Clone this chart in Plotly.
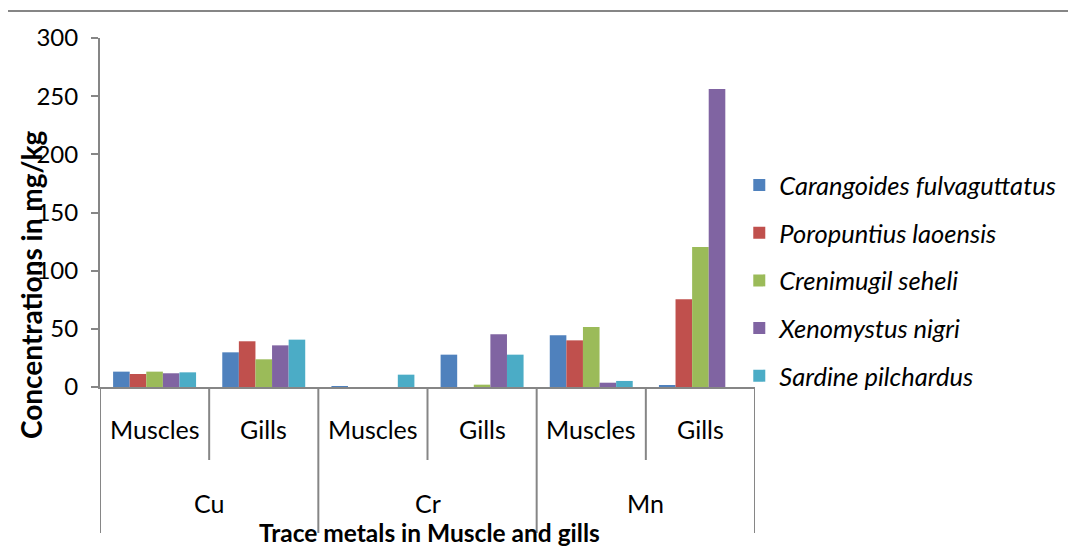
import plotly.graph_objects as go

metals = ["Cu", "Cr", "Mn"]
tissues = ["Muscles", "Gills"]
categories = ["Cu Muscles", "Cu Gills", "Cr Muscles", "Cr Gills", "Mn Muscles", "Mn Gills"]

species = ["Carangoides fulvaguttatus", "Poropuntius laoensis", "Crenimugil seheli",
           "Xenomystus nigri", "Sardine pilchardus"]
carangoides = [13.2, 29.8, 0.8, 27.8, 44.4, 1.7]
poropuntius = [11.2, 39.3, 0.0, 0.0, 40.1, 75.4]
crenimugil = [13.2, 23.8, 0.0, 2.0, 51.6, 120.4]
xenomystus = [11.8, 35.8, 0.0, 45.3, 3.7, 256.2]
sardine = [12.6, 40.7, 10.6, 27.8, 5.2, 0.0]
series = [carangoides, poropuntius, crenimugil, xenomystus, sardine]
colors = ["#4F81BD", "#C0504D", "#9BBB59", "#8064A2", "#4BACC6"]

y_ticks = [0, 50, 100, 150, 200, 250, 300]

FONT = "Lato"
AXIS = "#868686"

# page offset (body margin of the html page)
OFF = 8
W, H = 1076 - OFF, 548 - OFF
# plot area in page pixels
L, R, T, B = 100, 755, 38, 387
PW, PH = R - L, B - T


def py(p):
    return (B - p) / PH


def pxx(p):
    return (p - L) / PW


fig = go.Figure()
for name, vals, col in zip(species, series, colors):
    fig.add_trace(go.Bar(
        x=categories, y=vals, name=name, legendgroup=name,
        marker=dict(color=col, line=dict(width=0)),
    ))

fig.update_layout(
    width=W, height=H,
    margin=dict(l=L - OFF, r=W - (R - OFF), t=T - OFF, b=H - (B - OFF), pad=0,
                autoexpand=False),
    paper_bgcolor="white", plot_bgcolor="white",
    barmode="group", bargap=0.24, bargroupgap=0.0,
    font=dict(family=FONT, color="black"),
    showlegend=True,
    legend=dict(
        x=0.976, y=py(162), xanchor="left", yanchor="top",
        font=dict(family=FONT, size=25.5, style="italic"),
        traceorder="grouped", tracegroupgap=11.5,
        bgcolor="rgba(0,0,0,0)", itemwidth=30,
    ),
)

fig.update_xaxes(
    type="category", range=[-0.5, 5.5], showticklabels=False,
    showline=True, linecolor=AXIS, linewidth=2, ticks="", showgrid=False, zeroline=False,
)
fig.update_yaxes(
    range=[0, 300], tickvals=y_ticks, ticktext=[str(v) for v in y_ticks],
    showline=True, linecolor=AXIS, linewidth=2,
    ticks="outside", ticklen=7, tickcolor=AXIS, tickwidth=2,
    ticklabelstandoff=8,
    tickfont=dict(family=FONT, size=24, color="black"),
    showgrid=False, zeroline=False,
)

# category labels
for i, cat in enumerate(categories):
    fig.add_annotation(x=i, y=py(429), xref="x", yref="paper", text=tissues[i % 2],
                       showarrow=False, font=dict(family=FONT, size=25, color="black"),
                       yanchor="middle")
for j, m in enumerate(metals):
    fig.add_annotation(x=2 * j + 0.5, y=py(503), xref="x", yref="paper", text=m,
                       showarrow=False, font=dict(family=FONT, size=25, color="black"),
                       yanchor="middle")

# dividers
for j in range(3):
    fig.add_shape(type="line", xref="x", yref="paper", x0=2 * j + 0.5, x1=2 * j + 0.5,
                  y0=0, y1=py(460), line=dict(color=AXIS, width=2))
for j in range(4):
    fig.add_shape(type="line", xref="x", yref="paper", x0=2 * j - 0.5, x1=2 * j - 0.5,
                  y0=0, y1=py(533), line=dict(color=AXIS, width=2))

# axis titles
fig.add_annotation(x=pxx(429), y=py(532), xref="paper", yref="paper", xanchor="center",
                   yanchor="middle", text="<b>Trace metals in Muscle and gills</b>",
                   showarrow=False, font=dict(family=FONT, size=24.5, color="black"))
fig.add_annotation(x=pxx(31), y=py(285), xref="paper", yref="paper", textangle=-90,
                   xanchor="center", yanchor="middle", text="<b>Concentrations in mg/kg</b>",
                   showarrow=False, font=dict(family=FONT, size=28, color="black"))

# outer chart border (left and top visible)
fig.add_shape(type="line", xref="paper", yref="paper", x0=pxx(7), x1=pxx(1080),
              y0=py(11), y1=py(11), line=dict(color=AXIS, width=2))
fig.add_shape(type="line", xref="paper", yref="paper", x0=pxx(7), x1=pxx(7),
              y0=py(11), y1=py(552), line=dict(color=AXIS, width=2))

fig.write_html("out.html")
